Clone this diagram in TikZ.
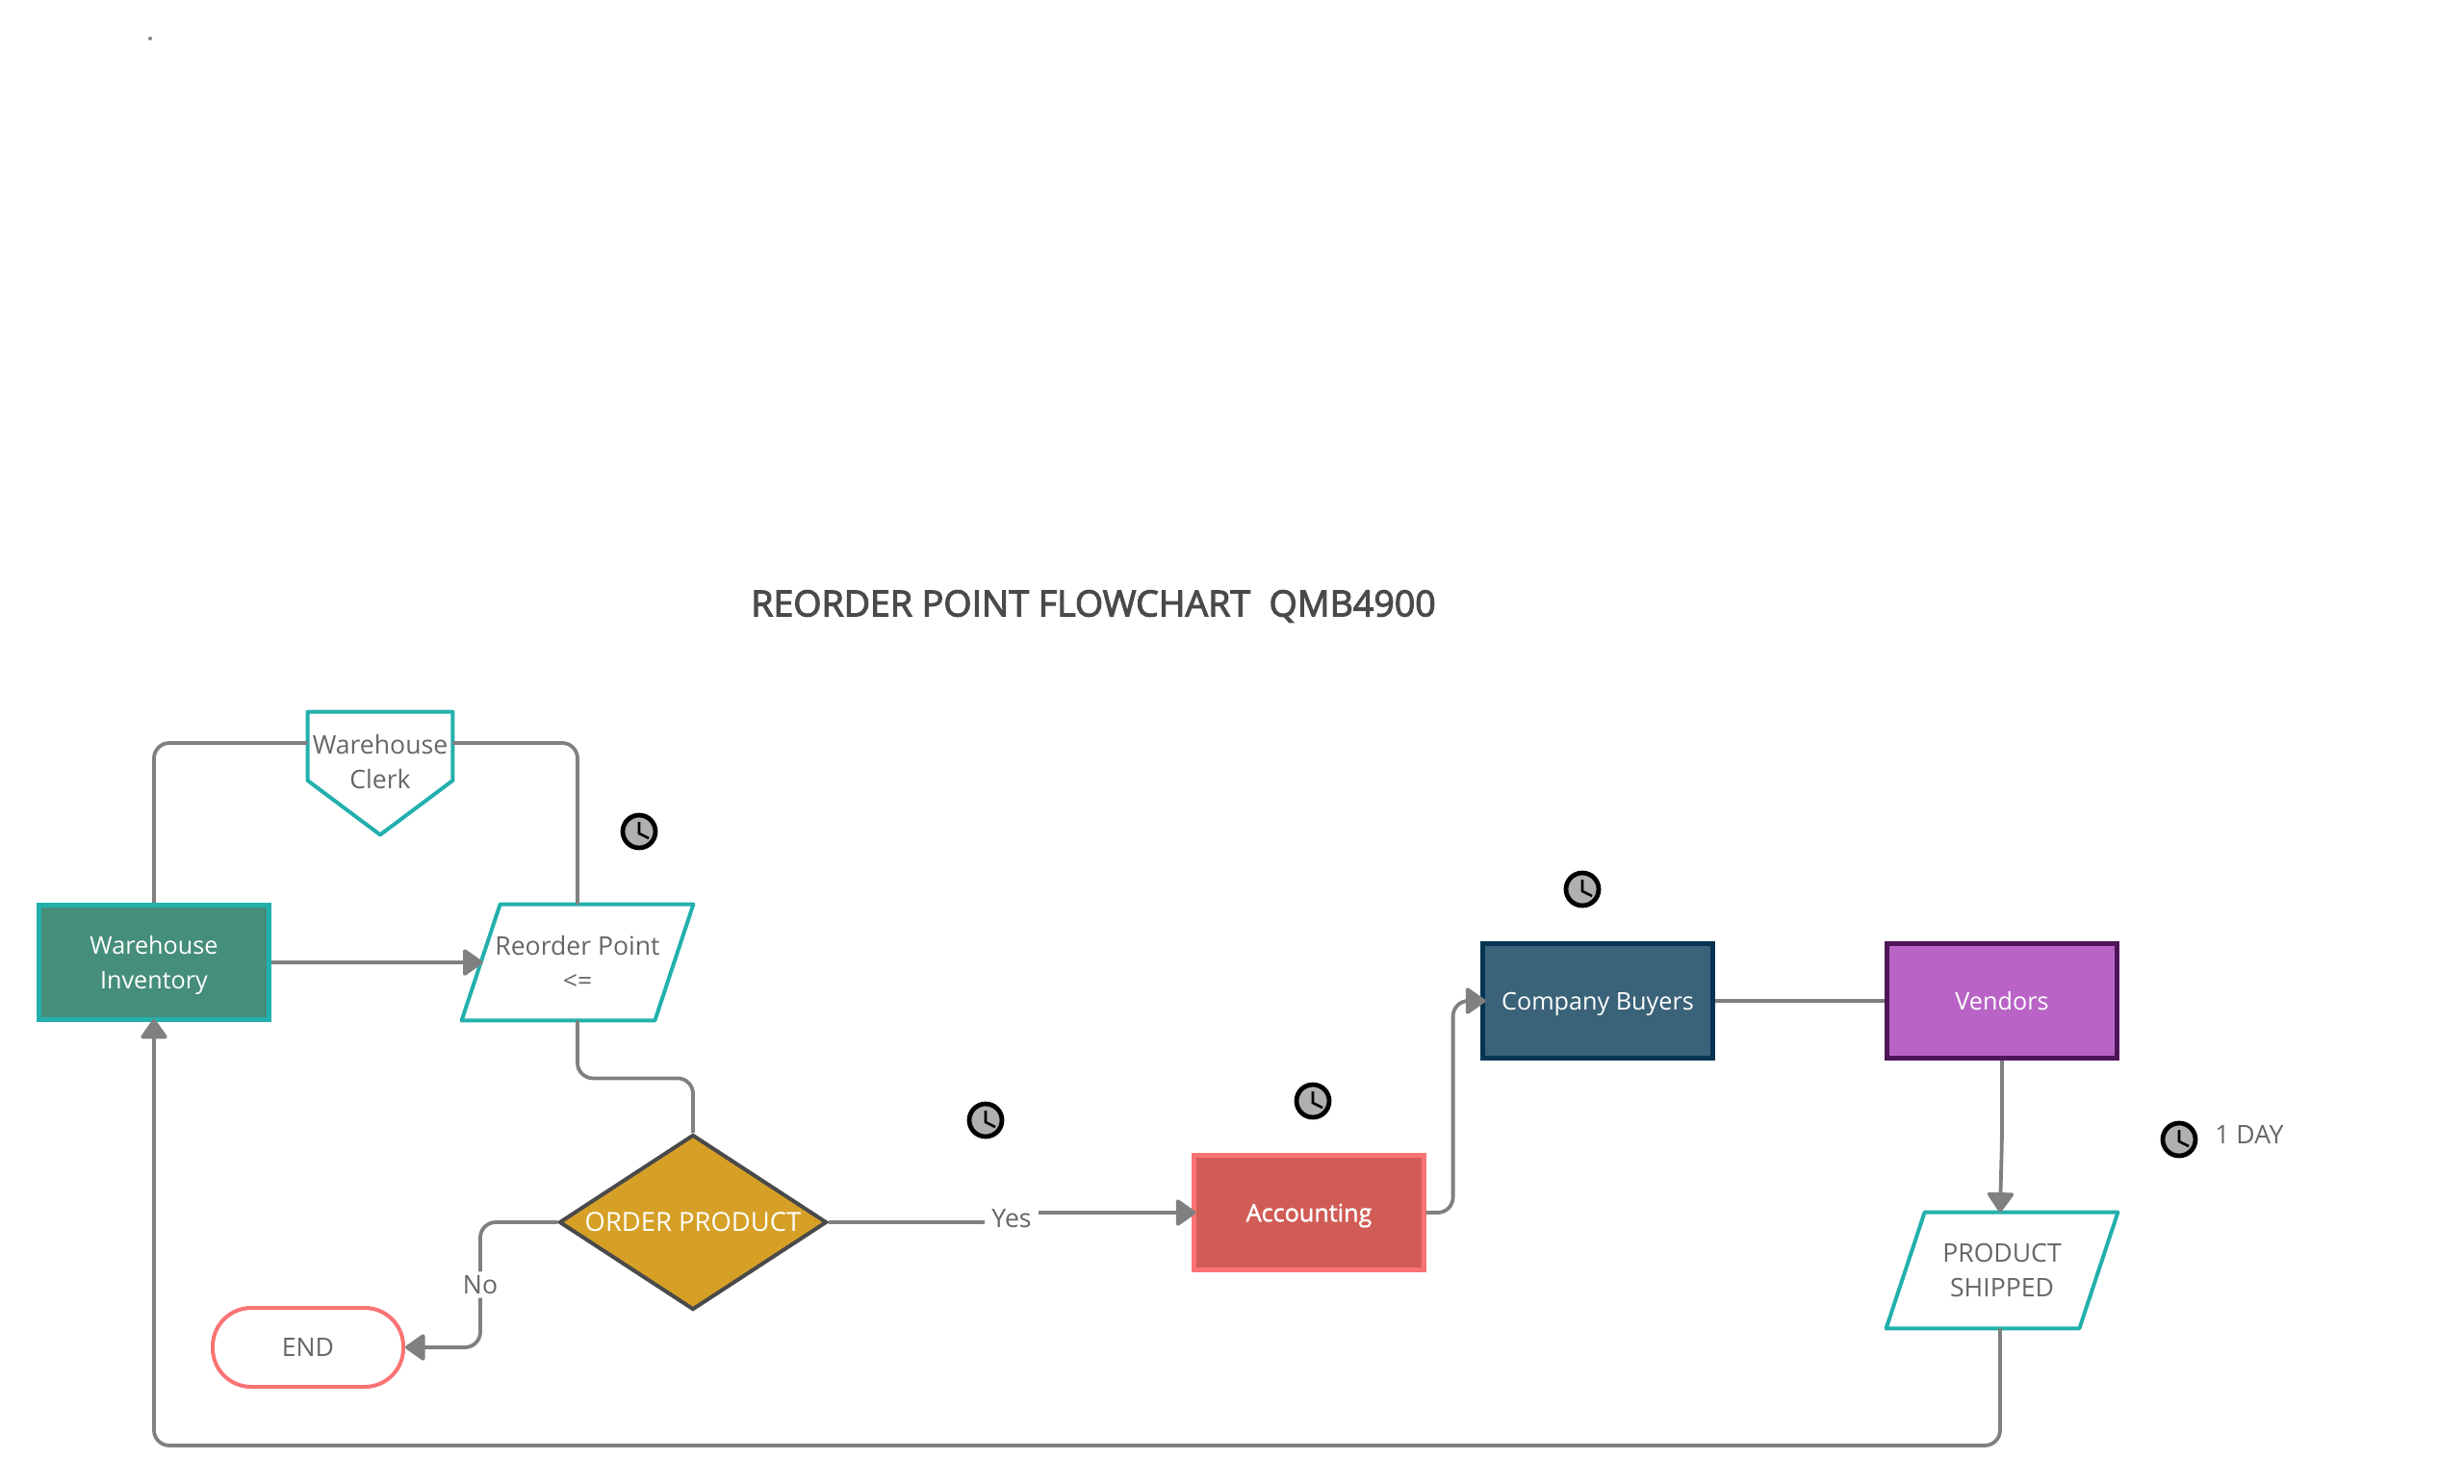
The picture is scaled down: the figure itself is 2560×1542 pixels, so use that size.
\documentclass[tikz,border=0pt]{standalone}
\usepackage{fontspec}
\setmainfont{Open Sans}
\newfontfamily\heavyfont[FakeBold=2.8]{Open Sans}
\newfontfamily\midfont[FakeBold=1.5]{Open Sans}
\usepackage{xcolor}
\usepackage{tikz}
\usetikzlibrary{shapes,arrows.meta,positioning,calc}

\definecolor{tealline}{HTML}{23B0AD}
\definecolor{flowgray}{HTML}{808080}
\definecolor{labelgray}{HTML}{666666}
\definecolor{invfill}{HTML}{458E79}
\definecolor{acctfill}{HTML}{D15C56}
\definecolor{acctline}{HTML}{F97373}
\definecolor{buyerfill}{HTML}{3A6279}
\definecolor{buyerline}{HTML}{053552}
\definecolor{vendorfill}{HTML}{B963C7}
\definecolor{vendorline}{HTML}{4E1559}
\definecolor{orderfill}{HTML}{D6A027}
\definecolor{orderline}{HTML}{4A4A4A}
\definecolor{clockgray}{HTML}{B0B0B0}

% parallelogram round a plain node
\newcommand{\slantshape}[2]{\draw[tealline, line width=2pt, line join=round]
    ([xshift=#2]#1.north west) -- (#1.north east) -- ([xshift=-#2]#1.south east) -- (#1.south west) -- cycle;}

\begin{document}
\begin{tikzpicture}[
    x=0.5pt, y=-0.5pt,
    font=\fontsize{13.3pt}{18pt}\selectfont,
    box/.style={rectangle, draw, line width=2.2pt, minimum width=119.4pt, minimum height=59.6pt, align=center, text=white, inner sep=0pt, text depth=0pt, font=\fontsize{12.6pt}{18pt}\selectfont},
    slant/.style={rectangle, minimum width=120pt, minimum height=60pt, align=center, text=labelgray, inner sep=0pt},
    flow/.style={draw=flowgray, line width=1.9pt, rounded corners=8pt},
    tip/.style={-{Triangle[length=11pt, width=15pt, round]}},
    edgetext/.style={text=labelgray, fill=white, inner xsep=3.5pt, inner ysep=2pt},
    clockicon/.style={circle, draw=black, fill=clockgray, line width=2.4pt, minimum size=17pt, inner sep=0pt,
        path picture={\draw[black, line width=1.3pt] ([yshift=5pt]path picture bounding box.center) -- ([yshift=-1pt]path picture bounding box.center) -- ++(5pt,-2.5pt);}},
]
    \useasboundingbox (0,0) rectangle (2560,1542);
    \fill[flowgray] (156,40) circle (1pt) coordinate (dot);

    \node[text=orderline, font=\heavyfont\fontsize{18.75pt}{21pt}\selectfont] (title) at (1136,630) {REORDER POINT FLOWCHART\ \ QMB4900};

    \node[box, draw=tealline, fill=invfill] (inventory) at (160,1000) {Warehouse\\Inventory};
    \node[slant] (reorder) at (600,1000) {Reorder Point\\<=};
    \slantshape{reorder}{20pt}
    \node[slant, minimum width=75pt, minimum height=52pt] (clerk) at (395,792) {Warehouse\\Clerk};
    \draw[tealline, line width=2pt, line join=round] (clerk.north west) -- (clerk.north east) -- ([yshift=-9.5pt]clerk.east) -- ([yshift=-11.5pt]clerk.south) -- ([yshift=-9.5pt]clerk.west) -- cycle;
    \node[diamond, aspect=1.525, draw=orderline, fill=orderfill, line width=2pt, text=white, minimum width=139pt, minimum height=91pt, inner sep=0pt, font=\fontsize{13.7pt}{18pt}\selectfont] (order) at (720,1270) {ORDER PRODUCT};
    \node[draw=acctline, line width=2pt, rounded corners=20pt, minimum width=99pt, minimum height=41pt, text=labelgray, inner sep=0pt] (finish) at (320,1400) {END};
    \node[box, draw=acctline, fill=acctfill, font=\midfont\fontsize{12.6pt}{18pt}\selectfont] (accounting) at (1360,1260) {Accounting};
    \node[box, draw=buyerline, fill=buyerfill] (buyers) at (1660,1040) {Company Buyers};
    \node[box, draw=vendorline, fill=vendorfill] (vendors) at (2080,1040) {Vendors};
    \node[slant] (shipped) at (2080,1320) {PRODUCT\\SHIPPED};
    \slantshape{shipped}{20pt}

    \node[clockicon] (clockone) at (664,864) {};
    \node[clockicon] (clocktwo) at (1024,1164) {};
    \node[clockicon] (clockthree) at (1364,1144) {};
    \node[clockicon] (clockfour) at (1644,924) {};
    \node[clockicon] (clockfive) at (2264,1184) {};
    \node[text=labelgray, right=5.4pt of clockfive, yshift=2.7pt] (oneday) {1 DAY};

    \coordinate (loopcorner) at (160,1502);

    \draw[flow] (inventory.north) |- ([yshift=10pt]clerk.west);
    \draw[flow] ([yshift=10pt]clerk.east) -| (reorder.north);
    \draw[flow, tip] (inventory.east) -- ([xshift=11pt]reorder.west);
    \draw[flow] (reorder.south) |- ++(60,60) -| (order.north);
    \draw[flow, tip] (order.west) -- ++(-80,0) |- (finish.east) node[edgetext, pos=.25] (nolabel) {No};
    \draw[flow, tip, rounded corners=0pt] (order.east) -- ++(193,0) -- ++(0,-10) -- ([xshift=2pt]accounting.west);
    \node[edgetext] (yeslabel) at (1051,1266) {Yes};
    \draw[flow, tip] (accounting.east) -- ++(28,0) |- ([xshift=2.5pt]buyers.west);
    \draw[flow] (buyers.east) -- (vendors.west);
    \draw[flow, tip] (vendors.south) -- ++(0,80) -- ([xshift=-1pt]shipped.north);
    \draw[flow, tip] ([xshift=-1pt]shipped.south) |- (loopcorner) -- ([yshift=1.5pt]inventory.south);
\end{tikzpicture}
\end{document}
